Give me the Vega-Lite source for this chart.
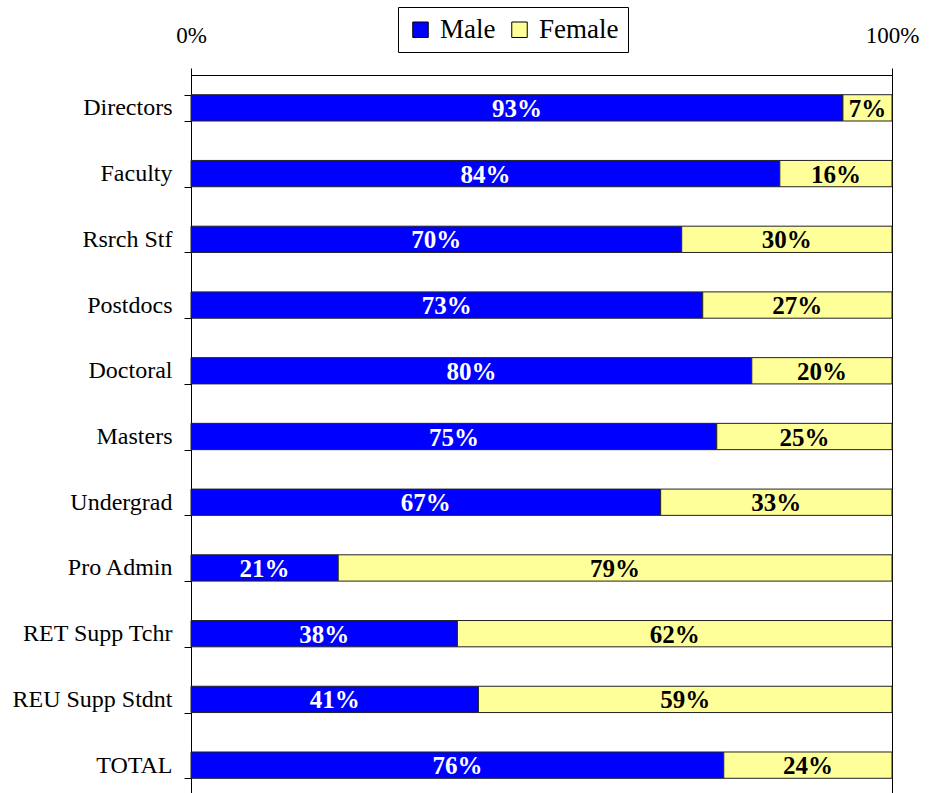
{
  "$schema": "https://vega.github.io/schema/vega-lite/v6.json",
  "autosize": "none",
  "padding": {"left": 191, "top": 75, "right": 40, "bottom": 0},
  "width": 701,
  "height": 723,
  "background": "white",
  "config": {
    "font": "Liberation Serif",
    "view": {"stroke": "#000", "strokeWidth": 1}
  },
  "data": {
    "values": [
      {"category": "Directors", "sex": "Male", "value": 0.93, "o": 0},
      {"category": "Directors", "sex": "Female", "value": 0.07, "o": 1},
      {"category": "Faculty", "sex": "Male", "value": 0.84, "o": 0},
      {"category": "Faculty", "sex": "Female", "value": 0.16, "o": 1},
      {"category": "Rsrch Stf", "sex": "Male", "value": 0.70, "o": 0},
      {"category": "Rsrch Stf", "sex": "Female", "value": 0.30, "o": 1},
      {"category": "Postdocs", "sex": "Male", "value": 0.73, "o": 0},
      {"category": "Postdocs", "sex": "Female", "value": 0.27, "o": 1},
      {"category": "Doctoral", "sex": "Male", "value": 0.80, "o": 0},
      {"category": "Doctoral", "sex": "Female", "value": 0.20, "o": 1},
      {"category": "Masters", "sex": "Male", "value": 0.75, "o": 0},
      {"category": "Masters", "sex": "Female", "value": 0.25, "o": 1},
      {"category": "Undergrad", "sex": "Male", "value": 0.67, "o": 0},
      {"category": "Undergrad", "sex": "Female", "value": 0.33, "o": 1},
      {"category": "Pro Admin", "sex": "Male", "value": 0.21, "o": 0},
      {"category": "Pro Admin", "sex": "Female", "value": 0.79, "o": 1},
      {"category": "RET Supp Tchr", "sex": "Male", "value": 0.38, "o": 0},
      {"category": "RET Supp Tchr", "sex": "Female", "value": 0.62, "o": 1},
      {"category": "REU Supp Stdnt", "sex": "Male", "value": 0.41, "o": 0},
      {"category": "REU Supp Stdnt", "sex": "Female", "value": 0.59, "o": 1},
      {"category": "TOTAL", "sex": "Male", "value": 0.76, "o": 0},
      {"category": "TOTAL", "sex": "Female", "value": 0.24, "o": 1}
    ]
  },
  "transform": [
    {"stack": "value", "groupby": ["category"], "sort": [{"field": "o", "order": "ascending"}], "as": ["v0", "v1"]},
    {"calculate": "(datum.v0 + datum.v1) / 2", "as": "mid"}
  ],
  "encoding": {
    "y": {
      "field": "category",
      "type": "nominal",
      "sort": null,
      "title": null,
      "scale": {"paddingInner": 0.6, "paddingOuter": 0.3},
      "axis": {
        "orient": "left",
        "tickBand": "extent",
        "tickSize": 7,
        "tickColor": "#000",
        "domainColor": "#000",
        "labelFont": "Liberation Serif",
        "labelFontSize": 24,
        "labelColor": "#000",
        "labelPadding": 12,
        "labelLimit": 300
      }
    }
  },
  "layer": [
    {
      "mark": {"type": "bar", "stroke": "#222", "strokeWidth": 1},
      "encoding": {
        "x": {
          "field": "v0",
          "type": "quantitative",
          "scale": {"domain": [0, 1], "nice": false},
          "title": null,
          "axis": {
            "orient": "top",
            "values": [0, 1],
            "format": ".0%",
            "grid": true,
            "gridColor": "#000",
            "gridOpacity": 1,
            "tickSize": 7,
            "tickColor": "#000",
            "domainColor": "#000",
            "labelFont": "Liberation Serif",
            "labelFontSize": 23,
            "labelColor": "#000",
            "labelPadding": 21,
            "labelFlush": false
          }
        },
        "x2": {"field": "v1"},
        "color": {
          "field": "sex",
          "type": "nominal",
          "sort": ["Male", "Female"],
          "scale": {"domain": ["Male", "Female"], "range": ["#0000FF", "#FFFF99"]},
          "legend": {
            "title": null,
            "orient": "none",
            "legendX": 207,
            "legendY": -68,
            "direction": "horizontal",
            "strokeColor": "#000",
            "fillColor": "#fff",
            "padding": 9,
            "symbolType": "square",
            "symbolSize": 240,
            "symbolStrokeColor": "#000",
            "symbolStrokeWidth": 1,
            "symbolOpacity": 1,
            "labelFont": "Liberation Serif",
            "labelFontSize": 27,
            "labelColor": "#000",
            "labelOffset": 6,
            "columnPadding": 10
          }
        }
      }
    },
    {
      "mark": {"type": "text", "font": "Liberation Serif", "fontSize": 25, "fontWeight": "bold", "align": "center", "baseline": "middle", "dy": 1},
      "encoding": {
        "x": {"field": "mid", "type": "quantitative"},
        "text": {"field": "value", "type": "quantitative", "format": ".0%"},
        "color": {
          "condition": {"test": "datum.sex === 'Male'", "value": "#fff"},
          "value": "#000"
        }
      }
    }
  ]
}
